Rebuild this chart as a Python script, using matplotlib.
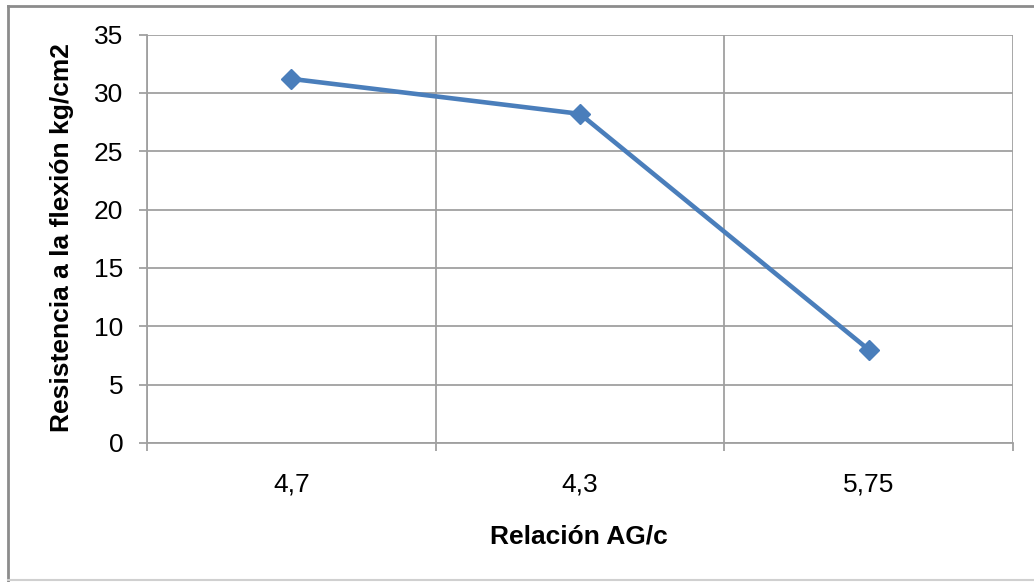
import matplotlib
matplotlib.use("Agg")
import matplotlib.pyplot as plt
from matplotlib.lines import Line2D

categories = ["4,7", "4,3", "5,75"]
values = [31.2, 28.2, 8.0]
y_ticks = [0, 5, 10, 15, 20, 25, 30, 35]
x_label = "Relación AG/c"
y_label = "Resistencia a la flexión kg/cm2"

plt.rcParams['font.family'] = ['Liberation Sans', 'DejaVu Sans']

W, H = 1034, 582
fig = plt.figure(figsize=(W / 100, H / 100), dpi=100)
ax = fig.add_axes([147 / W, 1 - 443 / H, (1013 - 147) / W, (443 - 34.5) / H])

x = list(range(len(categories)))
ax.plot(x, values, color="#4A7EBB", linewidth=3.3, marker="D", markersize=10,
        markerfacecolor="#4A7EBB", markeredgecolor="#4A7EBB", zorder=3)

ax.set_xlim(-0.5, len(categories) - 0.5)
ax.set_ylim(0, 35)
ax.set_yticks(y_ticks)
ax.set_yticklabels([str(t) for t in y_ticks], fontsize=19)
ax.set_xticks(x)
ax.set_xticklabels(categories, fontsize=19)
ax.tick_params(axis="x", length=0, pad=21)
ax.tick_params(axis="y", length=6, color="#A0A0A0", width=1.3, pad=11)
ax.set_xticks([i - 0.5 for i in range(len(categories) + 1)], minor=True)
ax.tick_params(axis="x", which="minor", length=6, color="#A0A0A0", width=1.3)

ax.grid(axis="y", color="#A0A0A0", linewidth=1.3)
ax.grid(axis="x", which="minor", color="#A0A0A0", linewidth=1.3)
ax.set_axisbelow(True)
for s in ["top", "right"]:
    ax.spines[s].set_visible(False)
for s in ["left", "bottom"]:
    ax.spines[s].set_color("#A0A0A0")
    ax.spines[s].set_linewidth(1.3)

fig.text(579 / W, 1 - 536 / H, x_label, fontsize=19, fontweight="bold",
         ha="center", va="center")
fig.text(62 / W, 1 - 238 / H, y_label, fontsize=19, fontweight="bold",
         ha="center", va="center", rotation=90)

# outer chart frame
fig.add_artist(Line2D([8 / W, 8 / W], [0, 1 - 6 / H], transform=fig.transFigure,
                      color="#8C8C8C", linewidth=2))
fig.add_artist(Line2D([8 / W, 1], [1 - 6 / H, 1 - 6 / H], transform=fig.transFigure,
                      color="#8C8C8C", linewidth=2))
fig.add_artist(Line2D([8 / W, 1], [1 - 580 / H, 1 - 580 / H], transform=fig.transFigure,
                      color="#D0D0D0", linewidth=1.5))

fig.savefig("out.png", dpi=100)
